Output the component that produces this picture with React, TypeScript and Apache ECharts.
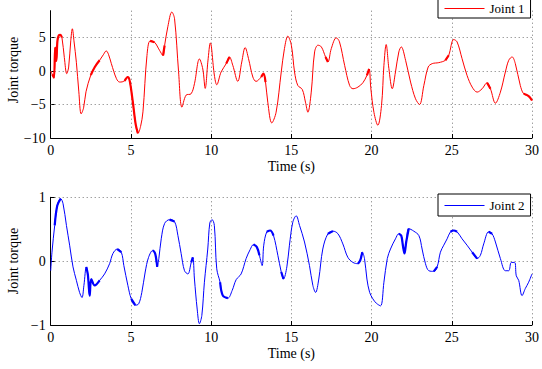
import React, { useEffect, useRef } from "react";
import * as echarts from "echarts";

// Joint torque samples as [time (s), torque]
const joint1: [number, number][] = [
  [0, 0], [0.1, -0.5], [0.2, -1.0], [0.28, 3.5], [0.35, 1.5], [0.42, 4.5], [0.5, 5.3], [0.6, 5.4],
  [0.7, 5.0], [0.85, 2.0], [1.0, -0.4], [1.12, 0.6], [1.25, 4.5], [1.35, 6.3], [1.45, 4.5], [1.6, 1.3],
  [1.75, -3.0], [1.9, -6.4], [2.05, -5.5], [2.2, -3.1], [2.5, -0.6], [2.75, 0.6], [3.05, 1.6], [3.3, 2.5],
  [3.46, 3.0], [3.6, 2.5], [3.78, 1.1], [4.1, -1.15], [4.3, -1.65], [4.6, -1.5], [4.8, -0.9], [4.92, -1.4],
  [5.12, -4.65], [5.3, -8.0], [5.44, -9.3], [5.6, -8.3], [5.75, -6.1], [6.0, 2.3], [6.2, 4.5], [6.47, 4.3],
  [6.78, 3.1], [7.0, 2.3], [7.1, 3.8], [7.3, 6.6], [7.55, 8.8], [7.72, 7.8], [7.97, -0.1], [8.18, -5.4],
  [8.44, -3.6], [8.75, -3.4], [8.96, -1.9], [9.27, 1.8], [9.48, 0.3], [9.63, -2.6], [9.8, 1.5], [9.95, 4.2],
  [10.2, -0.6], [10.35, -2.05], [10.62, -0.15], [10.94, 1.1], [11.14, 2.1], [11.35, 0.85], [11.66, -1.55],
  [11.91, 1.35], [12.12, 3.5], [12.33, 1.85], [12.6, -0.9], [12.8, -1.55], [13.12, -0.9], [13.26, -0.4],
  [13.39, -1.65], [13.53, -4.65], [13.78, -7.75], [14.05, -6.15], [14.37, -0.15], [14.57, 3.35], [14.78, 5.2],
  [15.0, 3.85], [15.2, -0.15], [15.4, -2.15], [15.68, -2.75], [15.88, -4.65], [16.03, -6.15], [16.24, -3.15],
  [16.45, 2.85], [16.66, 3.85], [16.87, 3.6], [17.13, 2.1], [17.28, 1.35], [17.49, 3.35], [17.8, 4.95],
  [18.0, 4.35], [18.32, 0.85], [18.63, -2.15], [18.84, -2.65], [19.15, -2.4], [19.46, -1.75], [19.71, -0.65],
  [19.85, 0.3], [19.95, -2.5], [20.15, -6.2], [20.39, -8.1], [20.62, -5.15], [20.77, 0.85], [20.91, 3.95],
  [21.08, 0.35], [21.29, -2.65], [21.49, -0.15], [21.7, 2.85], [21.85, 3.6], [22.12, 1.6], [22.43, -1.65],
  [22.74, -4.15], [22.99, -5.0], [23.26, -2.15], [23.53, 0.6], [23.78, 1.1], [24.19, 1.25], [24.6, 1.6],
  [24.81, 2.35], [25.12, 4.7], [25.33, 4.35], [25.64, 1.85], [25.95, -0.65], [26.27, -2.4], [26.58, -3.15],
  [26.89, -2.65], [27.2, -1.75], [27.41, -2.65], [27.72, -4.8], [28.03, -3.15], [28.34, -0.15], [28.55, 1.6],
  [28.76, 2.1], [28.96, 1.1], [29.27, -2.15], [29.48, -3.4], [29.79, -3.75], [30, -4.4],
];

const joint2: [number, number][] = [
  [0, -0.15], [0.08, 0.14], [0.25, 0.56], [0.41, 0.87], [0.62, 0.98], [0.77, 0.9], [0.98, 0.56], [1.18, 0.25],
  [1.39, -0.09], [1.6, -0.3], [1.8, -0.49], [1.95, -0.57], [2.07, -0.38], [2.22, -0.09], [2.32, -0.22],
  [2.43, -0.54], [2.53, -0.28], [2.74, -0.38], [3.05, -0.3], [3.36, -0.2], [3.67, -0.04], [3.88, 0.12],
  [4.15, 0.19], [4.4, 0.14], [4.56, -0.07], [4.81, -0.38], [5.02, -0.59], [5.27, -0.69], [5.48, -0.67],
  [5.68, -0.49], [5.89, -0.17], [6.1, 0.06], [6.37, 0.17], [6.51, 0.12], [6.64, -0.09], [6.74, 0.04],
  [6.89, 0.35], [7.1, 0.59], [7.41, 0.65], [7.72, 0.62], [7.93, 0.4], [8.13, 0.12], [8.34, -0.15],
  [8.55, -0.2], [8.76, -0.02], [8.86, 0.06], [8.96, -0.28], [9.13, -0.75], [9.27, -0.98], [9.42, -0.85],
  [9.58, -0.33], [9.79, 0.19], [9.92, 0.6], [10.06, 0.65], [10.2, 0.56], [10.35, -0.12], [10.56, -0.33],
  [10.73, -0.54], [11.04, -0.58], [11.31, -0.46], [11.56, -0.29], [11.87, -0.2], [12.18, 0.04], [12.43, 0.18],
  [12.64, 0.26], [12.85, 0.22], [13.01, 0.09], [13.18, -0.07], [13.28, 0.25], [13.47, 0.46], [13.68, 0.48],
  [13.89, 0.4], [14.16, 0.09], [14.37, -0.17], [14.51, -0.28], [14.72, -0.09], [14.88, 0.25], [15.09, 0.61],
  [15.3, 0.71], [15.51, 0.56], [15.82, 0.3], [16.13, -0.07], [16.34, -0.38], [16.51, -0.49], [16.71, -0.28],
  [16.96, 0.19], [17.28, 0.43], [17.59, 0.47], [17.9, 0.43], [18.21, 0.27], [18.52, 0.06], [18.84, -0.02],
  [19.15, -0.04], [19.29, 0.01], [19.42, 0.14], [19.56, 0.04], [19.71, -0.28], [19.88, -0.49], [20.08, -0.59],
  [20.3, -0.66], [20.56, -0.7], [20.77, -0.33], [20.98, 0.04], [21.18, 0.19], [21.49, 0.35], [21.7, 0.43],
  [21.85, 0.4], [21.95, 0.25], [22.05, 0.12], [22.16, 0.3], [22.32, 0.51], [22.63, 0.47], [22.95, 0.4],
  [23.15, 0.19], [23.36, -0.04], [23.57, -0.15], [23.88, -0.16], [24.09, -0.09], [24.29, 0.14], [24.5, 0.25],
  [24.71, 0.35], [24.92, 0.46], [25.12, 0.48], [25.33, 0.46], [25.64, 0.35], [25.95, 0.25], [26.27, 0.14],
  [26.58, 0.04], [26.78, 0.09], [26.99, 0.27], [27.3, 0.46], [27.51, 0.43], [27.72, 0.3], [28.03, 0.04],
  [28.34, -0.15], [28.55, -0.15], [28.71, -0.02], [28.92, -0.02], [29.02, -0.23], [29.17, -0.3],
  [29.38, -0.54], [29.58, -0.43], [29.79, -0.33], [30, -0.2],
];

// Time spans (s) where the measured signal carries heavy sensor noise
const noisySpans1: [number, number][] = [
  [0.1, 0.7], [2.5, 3.05], [4.55, 4.95], [5.0, 5.45], [6.2, 6.6], [6.95, 7.15], [10.85, 11.2],
  [13.05, 13.4], [17.1, 17.35], [19.6, 19.9], [24.55, 24.85], [27.1, 27.45], [29.48, 30],
];
const noisySpans2: [number, number][] = [
  [0.25, 0.7], [2.2, 3.1], [4.0, 4.5], [5.0, 5.3], [6.35, 6.7], [7.3, 7.75], [8.7, 8.9], [10.5, 11.1],
  [12.6, 13.05], [13.4, 13.9], [14.35, 14.55], [15.1, 15.35], [17.2, 17.8], [18.9, 19.5], [21.6, 22.4],
  [23.6, 24.1], [24.9, 25.4], [26.1, 26.6], [27.2, 27.55], [28.6, 28.9], [29.2, 29.5],
];

const FONT = "Liberation Serif";

const withinSpans = (data: [number, number][], spans: [number, number][]) =>
  data.map(([t, v]) => (spans.some(([a, b]) => t >= a && t <= b) ? [t, v] : [t, null]));

export default function App() {
  const ref = useRef<HTMLDivElement>(null);

  useEffect(() => {
    if (!ref.current) return;
    const chart = echarts.init(ref.current, null, { renderer: "svg" });

    const dotted = { color: "#777", type: [1, 3] as number[], width: 1 };
    const axisLine = { show: true, onZero: false, lineStyle: { color: "#000", width: 1 } };
    const axisTick = { show: true, inside: true, length: 4, lineStyle: { color: "#000" } };
    const tickLabel = { color: "#000", fontFamily: FONT, fontSize: 14, margin: 5 };
    const minusFmt = (v: number) => (v < 0 ? "\u2212" + Math.abs(v) : String(v));

    const xAxisBase = {
      type: "value" as const,
      min: 0,
      max: 30,
      interval: 5,
      axisLine,
      axisTick,
      axisLabel: tickLabel,
      splitLine: { show: true, lineStyle: dotted },
      name: "Time (s)",
      nameLocation: "middle" as const,
      nameGap: 21,
      nameTextStyle: { color: "#000", fontFamily: FONT, fontSize: 14 },
    };

    const legendBase = {
      left: 438,
      itemWidth: 40,
      itemHeight: 12,
      itemGap: 5,
      borderColor: "#000",
      borderWidth: 1,
      borderRadius: 0,
      backgroundColor: "#fff",
      itemStyle: { opacity: 0 },
      lineStyle: { width: 1 },
      textStyle: { color: "#000", fontFamily: FONT, fontSize: 13 },
    };

    const yName = (y: number) => ({
      type: "text",
      x: 13,
      y,
      rotation: Math.PI / 2,
      style: { text: "Joint torque", fill: "#000", font: `14px ${FONT}`, textAlign: "center", textVerticalAlign: "middle" },
    });

    chart.setOption({
      animation: false,
      backgroundColor: "#fff",
      grid: [
        { left: 50.7, right: 8.7, top: 10.7, bottom: 231 },
        { left: 50.7, right: 8.7, top: 197.3, bottom: 44 },
      ],
      xAxis: [
        { ...xAxisBase, gridIndex: 0 },
        { ...xAxisBase, gridIndex: 1 },
      ],
      yAxis: [
        {
          type: "value",
          gridIndex: 0,
          min: -10,
          max: 9,
          interval: 5,
          axisLine,
          axisTick,
          axisLabel: { ...tickLabel, showMaxLabel: false, formatter: minusFmt },
          splitLine: { show: false },
        },
        {
          type: "value",
          gridIndex: 1,
          min: -1,
          max: 1,
          interval: 1,
          axisLine,
          axisTick,
          axisLabel: { ...tickLabel, formatter: minusFmt },
          splitLine: { show: true, lineStyle: dotted },
        },
      ],
      legend: [
        { ...legendBase, data: ["Joint 1"], top: -1, padding: [3, 6, 3, 6] },
        { ...legendBase, data: ["Joint 2"], top: 194, padding: [5, 6, 4, 6] },
      ],
      graphic: [yName(70), yName(261)],
      series: [
        {
          name: "Joint 1",
          type: "line",
          xAxisIndex: 0,
          yAxisIndex: 0,
          data: joint1,
          symbol: "none",
          smooth: 0.35,
          lineStyle: { color: "#ff0000", width: 1 },
          itemStyle: { color: "#ff0000" },
          z: 3,
          markLine: {
            silent: true,
            symbol: "none",
            label: { show: false },
            lineStyle: dotted,
            data: [5, 0, -5].map((v) => ({ yAxis: v })),
            z: 1,
          },
        },
        {
          name: "Joint 1 noise",
          type: "line",
          xAxisIndex: 0,
          yAxisIndex: 0,
          data: withinSpans(joint1, noisySpans1),
          symbol: "none",
          smooth: 0.35,
          connectNulls: false,
          lineStyle: { color: "#ff0000", width: 2.2 },
          z: 3,
        },
        {
          name: "Joint 2",
          type: "line",
          xAxisIndex: 1,
          yAxisIndex: 1,
          data: joint2,
          symbol: "none",
          smooth: 0.35,
          lineStyle: { color: "#0000ff", width: 1 },
          itemStyle: { color: "#0000ff" },
          z: 3,
        },
        {
          name: "Joint 2 noise",
          type: "line",
          xAxisIndex: 1,
          yAxisIndex: 1,
          data: withinSpans(joint2, noisySpans2),
          symbol: "none",
          smooth: 0.35,
          connectNulls: false,
          lineStyle: { color: "#0000ff", width: 2.2 },
          z: 3,
        },
      ],
    });

    return () => chart.dispose();
  }, []);

  return <div ref={ref} style={{ width: 542, height: 369, position: "absolute", left: 0, top: 0 }} />;
}
